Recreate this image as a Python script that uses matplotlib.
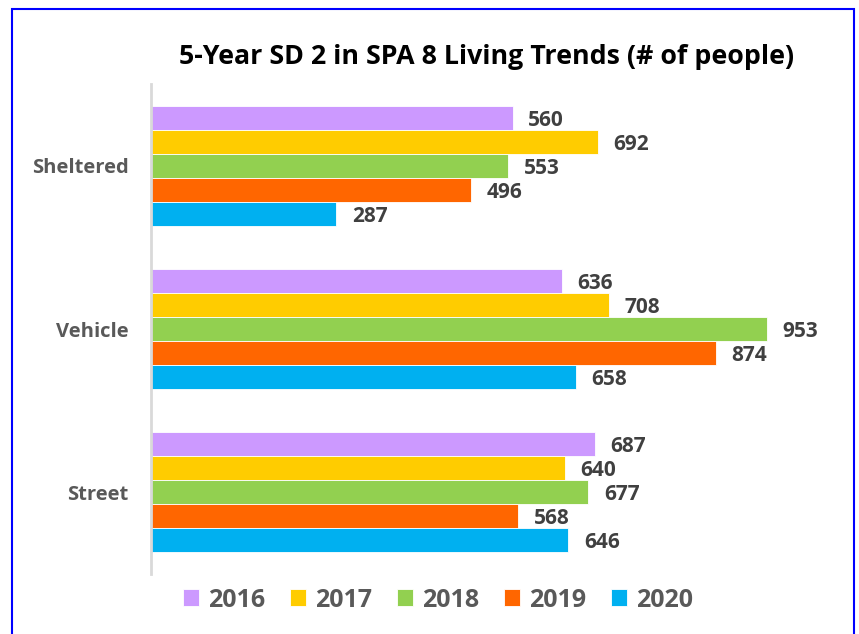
import numpy as np
import matplotlib.pyplot as plt
from matplotlib.patches import Rectangle

# dati
categories = ['Sheltered', 'Vehicle', 'Street']
years = ['2016', '2017', '2018', '2019', '2020']
v2016 = [560, 636, 687]
v2017 = [692, 708, 640]
v2018 = [553, 953, 677]
v2019 = [496, 874, 568]
v2020 = [287, 658, 646]
series = [v2016, v2017, v2018, v2019, v2020]
colors = ['#cc99ff', '#ffcc00', '#92d050', '#ff6600', '#00b0f0']

plt.rcParams['font.family'] = ['Open Sans', 'DejaVu Sans']
gray = '#595959'

fig = plt.figure(figsize=(8.59, 6.34), dpi=100)
ax = fig.add_axes([0.1757, 0.0946, 0.79, 0.7729])

h = 0.147
y = np.arange(len(categories))
for i, vals in enumerate(series):
    pos = y - 2 * h + i * h
    ax.barh(pos, vals, height=h, color=colors[i], edgecolor='white', linewidth=0.6, label=years[i])
    for p, v in zip(pos, vals):
        ax.text(v + 24, p, str(v), va='center_baseline', ha='left', fontsize=15,
                fontweight='bold', color='#404040')

ax.set_ylim(2.5, -0.5)
ax.set_xlim(0, 1050)
ax.set_yticks(y)
ax.set_yticklabels(categories, fontsize=14.5, fontweight='bold', color=gray)
ax.tick_params(axis='y', length=0, pad=16)
ax.set_xticks([])
for s in ['top', 'right', 'bottom']:
    ax.spines[s].set_visible(False)
ax.spines['left'].set_color('#d9d9d9')
ax.spines['left'].set_linewidth(2)

fig.text(0.566, 0.91, '5-Year SD 2 in SPA 8 Living Trends (# of people)',
         ha='center', va='center', fontsize=19.3, fontweight='bold', color='black')

leg = fig.legend(loc='center', bbox_to_anchor=(0.51, 0.0536), ncol=5, frameon=False,
                 prop={'size': 18, 'weight': 'bold'}, handlelength=0.64, handleheight=0.64,
                 handletextpad=0.36, columnspacing=1.0, borderpad=0)
for t in leg.get_texts():
    t.set_color(gray)

# bordo blu
fig.add_artist(Rectangle((11.5 / 859, -0.05), (854 - 11.5) / 859, 1.05 - 8.5 / 634,
                         transform=fig.transFigure, fill=False, edgecolor='#0000ff', linewidth=1.5))

fig.savefig('out.png', dpi=100)
